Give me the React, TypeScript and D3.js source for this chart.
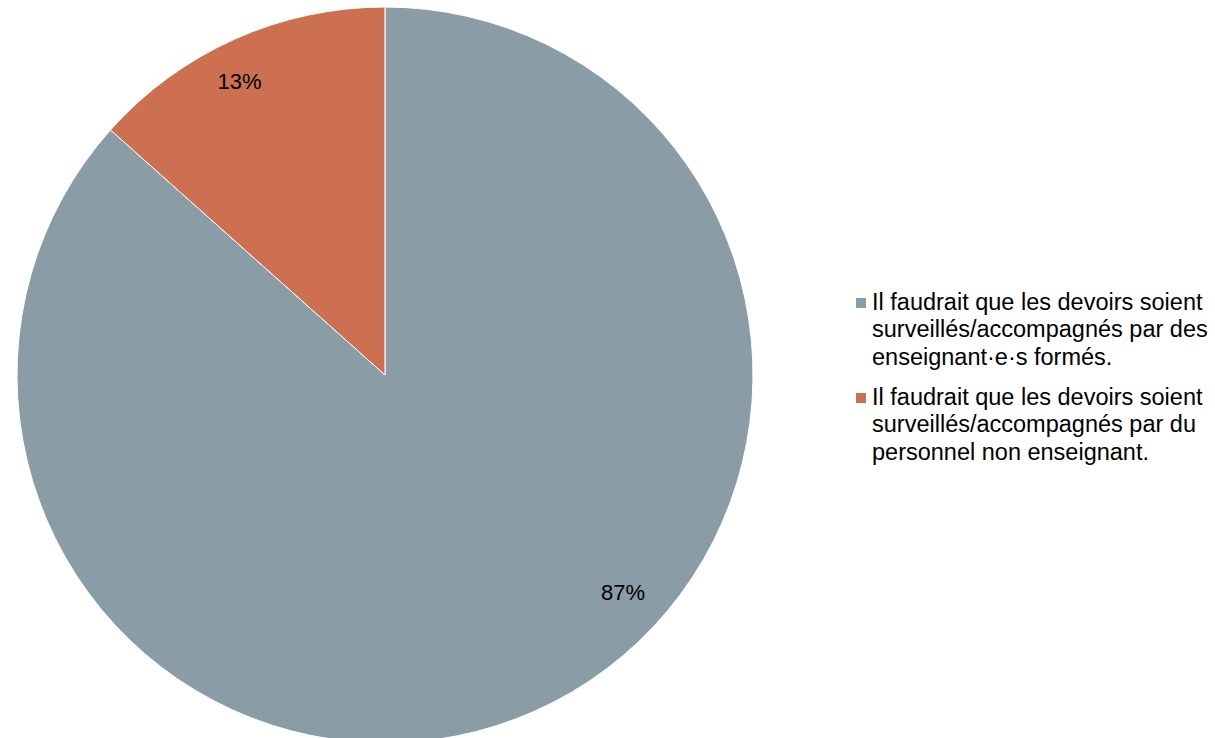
import React from "react";
import * as d3 from "d3";

const categories = [
  "Il faudrait que les devoirs soient surveillés/accompagnés par des enseignant·e·s formés.",
  "Il faudrait que les devoirs soient surveillés/accompagnés par du personnel non enseignant.",
];
const legendLines = [
  ["Il faudrait que les devoirs soient", "surveillés/accompagnés par des", "enseignant·e·s formés."],
  ["Il faudrait que les devoirs soient", "surveillés/accompagnés par du", "personnel non enseignant."],
];
const values = [86.6, 13.4];
const labels = ["87%", "13%"];
const colors = ["#8A9CA6", "#CD7052"];
const labelAngleShift = [-0.405, -0.04];

export default function App() {
  const W = 1215, H = 738;
  const cx = 385, cy = 375, r = 368;
  const pie = d3.pie<number>().sort(null).value((d) => d)(values);
  const arc = d3.arc<d3.PieArcDatum<number>>().innerRadius(0).outerRadius(r);
  const font = "'Liberation Sans', Arial, sans-serif";
  return (
    <svg width={W} height={H} style={{ position: "absolute", left: 0, top: 0 }}>
      <rect width={W} height={H} fill="#fff" />
      <g transform={`translate(${cx},${cy})`}>
        {pie.map((p, i) => (
          <path key={i} d={arc(p) || ""} fill={colors[i]} stroke="#fff" strokeWidth={1} />
        ))}
        {pie.map((p, i) => {
          const a = (p.startAngle + p.endAngle) / 2 + labelAngleShift[i];
          const lr = 325;
          return (
            <text key={i} x={lr * Math.sin(a) - 1} y={-lr * Math.cos(a) + 5} textAnchor="middle"
              fontFamily={font} fontSize={22} fill="#000">{labels[i]}</text>
          );
        })}
      </g>
      <g>
        {categories.map((c, i) => (
          <g key={i} transform={`translate(856,${310 + i * 95})`}>
            <rect y={-12} width={10} height={10} fill={colors[i]} />
            {legendLines[i].map((l, j) => (
              <text key={j} x={16} y={j * 27.3} fontFamily={font} fontSize={23.5} fill="#000">{l}</text>
            ))}
          </g>
        ))}
      </g>
    </svg>
  );
}
